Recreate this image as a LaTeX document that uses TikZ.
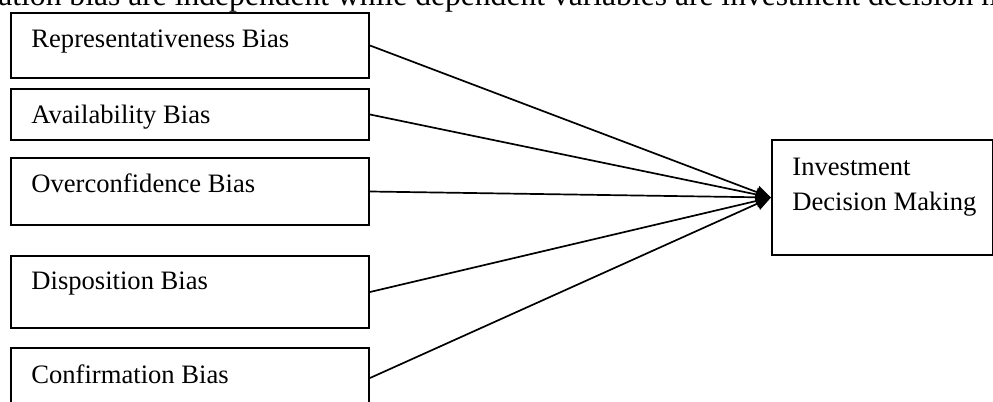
\documentclass[tikz,border=0pt]{standalone}
\usepackage{fontspec}
\setmainfont{Liberation Serif}
\usetikzlibrary{arrows.meta}
\begin{document}
\begin{tikzpicture}[x=0.5pt,y=-0.5pt,
  biasbox/.style={draw=black, line width=1pt, rectangle, inner sep=0pt,
    anchor=north west, minimum width=179pt},
  boxtext/.style={anchor=base west, inner sep=0pt,
    font=\fontsize{13.3}{17.5}\selectfont},
  bodytext/.style={anchor=base west, inner sep=0pt,
    font=\fontsize{15.8}{19}\selectfont},
  link/.style={line width=0.85pt, -{Triangle[length=7.5pt,width=6.5pt]}}
]
\useasboundingbox (0,0) rectangle (993,402);
\clip (0,0) rectangle (993,402);

% running text above the figure
\node[bodytext] (caption) at (-2,5)
  {ation bias are independent while dependent variables are investment decision m};

% independent variables
\node[biasbox, minimum height=32.5pt] (rep) at (10,12) {};
\node[boxtext] (reptxt) at (31,47) {Representativeness Bias};

\node[biasbox, minimum height=25.5pt] (avail) at (10,88) {};
\node[boxtext] (availtxt) at (31,123) {Availability Bias};

\node[biasbox, minimum height=33.5pt] (over) at (10,157) {};
\node[boxtext] (overtxt) at (31,192) {Overconfidence Bias};

\node[biasbox, minimum height=36pt] (disp) at (10,255) {};
\node[boxtext] (disptxt) at (31,289) {Disposition Bias};

\node[biasbox, minimum height=30pt] (conf) at (10,347) {};
\node[boxtext] (conftxt) at (31,383) {Confirmation Bias};

% dependent variable
\node[biasbox, minimum width=110.5pt, minimum height=57.5pt] (dm) at (771,139) {};
\node[boxtext] (dmtxt1) at (792,175) {Investment};
\node[boxtext] (dmtxt2) at (792,210) {Decision Making};

% relationships
\draw[link] (rep.east) -- (dm.west);
\draw[link] (avail.east) -- (dm.west);
\draw[link] (over.east) -- (dm.west);
\draw[link] (disp.east) -- (dm.west);
\draw[link] (conf.east) -- (dm.west);
\end{tikzpicture}
\end{document}
